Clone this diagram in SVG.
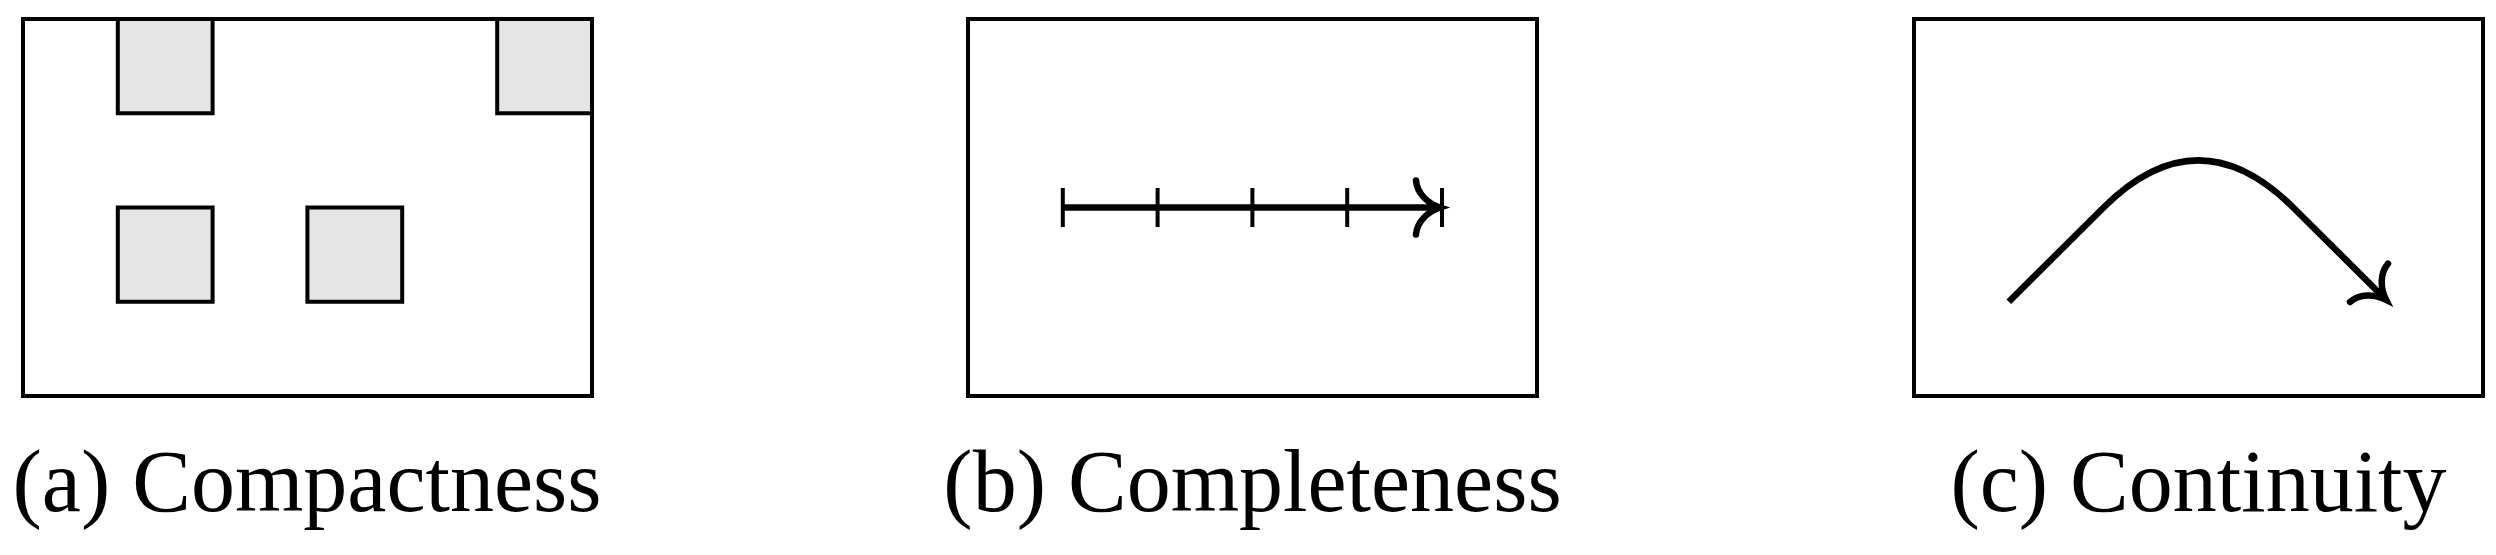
<svg xmlns="http://www.w3.org/2000/svg" width="2496" height="555" viewBox="0 0 2496 555">
  <style>
    .frame { fill: #ffffff; stroke: #000000; stroke-width: 4; }
    .box { fill: #e5e5e5; stroke: #000000; stroke-width: 4; }
    .main { fill: none; stroke: #000000; stroke-width: 6.5; }
    .tick { fill: none; stroke: #000000; stroke-width: 4; }
    .cap { font-family: "Liberation Serif", "Times New Roman", serif; font-size: 88px; fill: #000000; text-anchor: middle; }
  </style>
  <defs>
    <marker id="to" markerUnits="userSpaceOnUse" orient="auto" refX="0" refY="0" markerWidth="60" markerHeight="70" viewBox="-30 -35 60 70" overflow="visible">
      <path d="M -24,-27 C -23,-14 -12,-4 0,0 C -12,4 -23,14 -24,27" fill="none" stroke="#000000" stroke-width="6.5" stroke-linecap="round"/>
    </marker>
  </defs>
  <rect width="2496" height="555" fill="#ffffff"/>

  <g id="panel-a">
    <rect class="frame" x="23" y="19" width="569" height="377"/>
    <rect class="box" x="117.8" y="19" width="94.8" height="94.25"/>
    <rect class="box" x="497.2" y="19" width="94.8" height="94.25"/>
    <rect class="box" x="117.8" y="207.5" width="94.8" height="94.25"/>
    <rect class="box" x="307.4" y="207.5" width="94.8" height="94.25"/>
    <text class="cap" x="307" y="511">(a) Compactness</text>
  </g>

  <g id="panel-b">
    <rect class="frame" x="968" y="19" width="569" height="377"/>
    <g id="ticks">
      <line class="tick" x1="1062.8" y1="188" x2="1062.8" y2="227"/>
      <line class="tick" x1="1157.6" y1="188" x2="1157.6" y2="227"/>
      <line class="tick" x1="1252.4" y1="188" x2="1252.4" y2="227"/>
      <line class="tick" x1="1347.2" y1="188" x2="1347.2" y2="227"/>
      <line class="tick" x1="1442" y1="188" x2="1442" y2="227"/>
    </g>
    <text class="cap" x="1252.5" y="511">(b) Completeness</text>
  </g>

  <g id="panel-c">
    <rect class="frame" x="1914" y="19" width="569" height="377"/>
    <text class="cap" x="2198.5" y="511">(c) Continuity</text>
  </g>

  <g id="connectors">
    <path class="main" d="M 1062.8,207.5 L 1440,207.5" marker-end="url(#to)"/>
    <path class="main" d="M 2008.8,301.75 L 2103.6,207.5 Q 2198.4,113.25 2293.2,207.5 L 2386,299.75" marker-end="url(#to)"/>
  </g>
</svg>
